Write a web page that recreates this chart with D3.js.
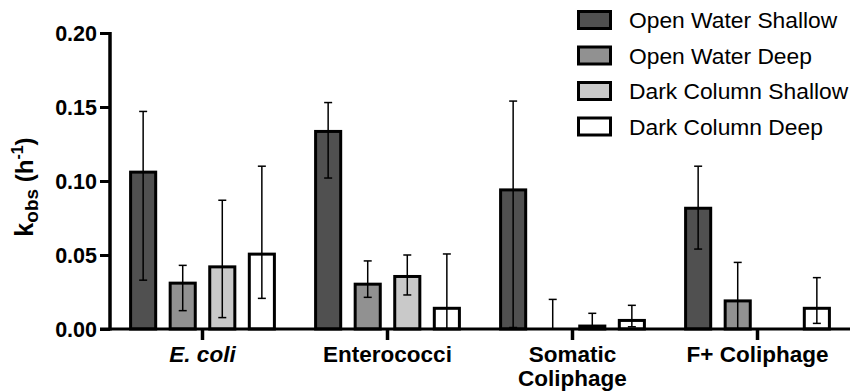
<!DOCTYPE html>
<html>
<head>
<meta charset="utf-8">
<script src="https://cdn.jsdelivr.net/npm/d3@7"></script>
<style>
  html, body { margin: 0; padding: 0; background: #fff; }
  svg { display: block; font-family: "Liberation Sans", Arial, sans-serif; }
</style>
</head>
<body>
<svg id="chart" width="866" height="391"></svg>
<script>
// ---- data ----
const categories = ["E. coli", "Enterococci", "Somatic Coliphage", "F+ Coliphage"];
const seriesNames = ["Open Water Shallow", "Open Water Deep", "Dark Column Shallow", "Dark Column Deep"];
const seriesColors = ["#505050", "#919191", "#c9c9c9", "#ffffff"];

const openWaterShallow      = [0.107, 0.1345, 0.095, 0.0826];
const openWaterShallowHigh  = [0.147, 0.153, 0.154, 0.110];
const openWaterShallowLow   = [0.033, 0.102, 0.001, 0.054];

const openWaterDeep         = [0.032, 0.0313, 0.0, 0.020];
const openWaterDeepHigh     = [0.043, 0.046, 0.020, 0.045];
const openWaterDeepLow      = [0.0124, 0.0214, 0.0, 0.0];

const darkColumnShallow     = [0.043, 0.0365, 0.003, 0.0];
const darkColumnShallowHigh = [0.087, 0.050, 0.0106, null];
const darkColumnShallowLow  = [0.0077, 0.023, 0.0015, null];

const darkColumnDeep        = [0.0516, 0.015, 0.0068, 0.015];
const darkColumnDeepHigh    = [0.110, 0.0507, 0.016, 0.0347];
const darkColumnDeepLow     = [0.0207, 0.0, 0.0015, 0.0038];

const yTicks = [0.00, 0.05, 0.10, 0.15, 0.20];

const seriesValues = [openWaterShallow, openWaterDeep, darkColumnShallow, darkColumnDeep];
const seriesHigh = [openWaterShallowHigh, openWaterDeepHigh, darkColumnShallowHigh, darkColumnDeepHigh];
const seriesLow = [openWaterShallowLow, openWaterDeepLow, darkColumnShallowLow, darkColumnDeepLow];

// ---- layout ----
const svg = d3.select("#chart");
const x0 = d3.scaleBand().domain(categories).range([110, 850]).padding(0);
const x1 = d3.scaleBand().domain(seriesNames).range([-73.4, 73.4]).paddingInner(0.29).paddingOuter(0);
const y = d3.scaleLinear().domain([0, 0.20]).range([329, 33]);

const rows = [];
categories.forEach((c, ci) => {
  seriesNames.forEach((s, si) => {
    rows.push({ cat: c, ser: s, si, v: seriesValues[si][ci], hi: seriesHigh[si][ci], lo: seriesLow[si][ci] });
  });
});

const barStroke = 3;
const cx = d => x0(d.cat) + x0.bandwidth() / 2 + x1(d.ser) + x1.bandwidth() / 2;

// bars
svg.append("g").selectAll("rect").data(rows.filter(d => d.v > 0)).join("rect")
  .attr("x", d => x0(d.cat) + x0.bandwidth() / 2 + x1(d.ser) + barStroke / 2)
  .attr("width", x1.bandwidth() - barStroke)
  .attr("y", d => y(d.v) + barStroke / 2)
  .attr("height", d => Math.max(0, y(0) - y(d.v) - barStroke / 2))
  .attr("fill", d => seriesColors[d.si])
  .attr("stroke", "#000")
  .attr("stroke-width", barStroke);

// error bars
const eb = svg.append("g").attr("stroke", "#000").attr("stroke-width", 1.5).attr("fill", "none");
const ebRows = rows.filter(d => d.hi != null);
eb.selectAll("line.v").data(ebRows).join("line").attr("class", "v")
  .attr("x1", cx).attr("x2", cx)
  .attr("y1", d => y(d.hi)).attr("y2", d => y(d.lo));
eb.selectAll("line.ht").data(ebRows).join("line").attr("class", "ht")
  .attr("x1", d => cx(d) - 4).attr("x2", d => cx(d) + 4)
  .attr("y1", d => y(d.hi)).attr("y2", d => y(d.hi));
eb.selectAll("line.lo").data(ebRows.filter(d => d.lo > 0)).join("line").attr("class", "lo")
  .attr("x1", d => cx(d) - 4).attr("x2", d => cx(d) + 4)
  .attr("y1", d => y(d.lo)).attr("y2", d => y(d.lo));

// y axis
const yAxis = svg.append("g").attr("transform", "translate(110,0)")
  .call(d3.axisLeft(y).tickValues(yTicks).tickFormat(d3.format(".2f")).tickSize(10).tickSizeOuter(0));
yAxis.select(".domain").attr("stroke-width", 3.5).attr("d", `M0,${y(0.20) - 1}V${y(0) + 1.5}`);
yAxis.selectAll(".tick line").attr("stroke-width", 3);
yAxis.selectAll(".tick text").attr("font-size", 21.5).attr("font-weight", "bold").attr("fill", "#000")
  .attr("font-family", "'Liberation Sans', Arial, sans-serif").attr("x", -13).attr("dy", "0.36em");

// x axis
const xAxis = svg.append("g").attr("transform", `translate(0,${y(0)})`)
  .call(d3.axisBottom(x0).tickSize(11).tickSizeOuter(0).tickFormat(""));
xAxis.select(".domain").attr("stroke-width", 3).attr("d", "M100,0H850");
xAxis.selectAll(".tick line").attr("stroke-width", 3.5);

// category labels
const catLabels = svg.append("g").attr("font-size", 22.5).attr("font-weight", "bold").attr("text-anchor", "middle");
categories.forEach(c => {
  const parts = c === "Somatic Coliphage" ? ["Somatic", "Coliphage"] : [c];
  const t = catLabels.append("text")
    .attr("x", x0(c) + x0.bandwidth() / 2).attr("y", 362)
    .attr("font-style", c === "E. coli" ? "italic" : "normal");
  parts.forEach((p, i) => t.append("tspan").attr("x", x0(c) + x0.bandwidth() / 2).attr("y", 362 + i * 23.5).text(p));
});

// y label
const yl = svg.append("text")
  .attr("transform", "translate(33,187) rotate(-90)")
  .attr("text-anchor", "middle").attr("font-weight", "bold").attr("font-size", 25);
yl.append("tspan").text("k");
yl.append("tspan").attr("font-size", 19).attr("dy", 5).text("obs");
yl.append("tspan").attr("dy", -5).attr("font-size", 24).text(" (h");
yl.append("tspan").attr("font-size", 16).attr("dy", -10).text("-1");
yl.append("tspan").attr("dy", 10).attr("font-size", 24).text(")");

// legend
const lg = svg.append("g");
seriesNames.forEach((s, i) => {
  const ty = 11.5 + i * 35.5;
  lg.append("rect").attr("x", 578.5).attr("y", ty).attr("width", 32).attr("height", 17)
    .attr("fill", seriesColors[i]).attr("stroke", "#000").attr("stroke-width", 3);
  lg.append("text").attr("x", 629).attr("y", ty + 16.5).attr("font-size", 22.8).text(s);
});
</script>
</body>
</html>
